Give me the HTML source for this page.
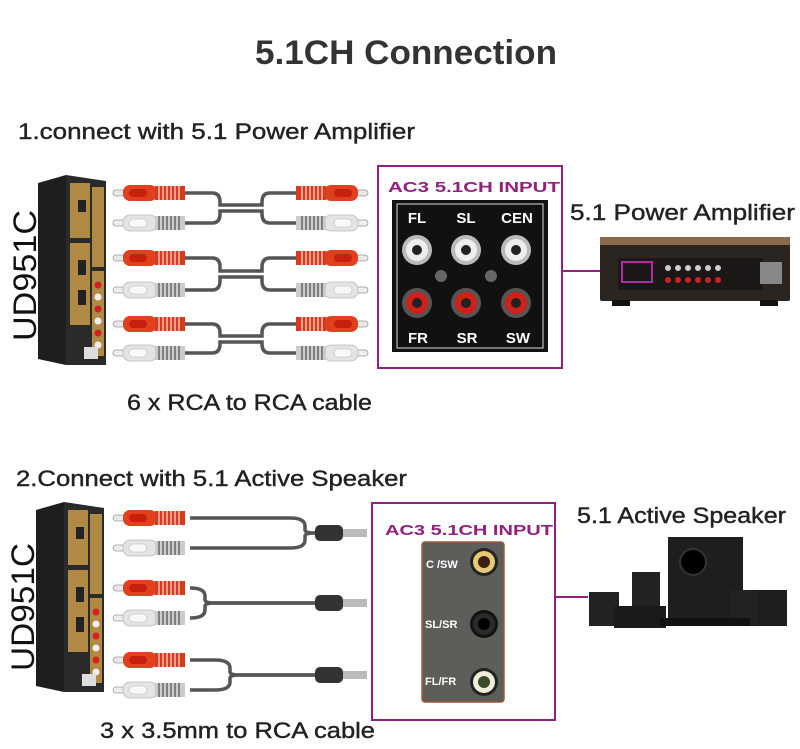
<!DOCTYPE html>
<html><head><meta charset="utf-8"><style>
html,body{margin:0;padding:0;background:#fff;}
svg{display:block;font-family:"Liberation Sans",sans-serif;}
</style></head><body>
<svg width="800" height="749" viewBox="0 0 800 749" xmlns="http://www.w3.org/2000/svg">
<defs>
<g id="plugR">
  <rect x="0" y="-3" width="12" height="6" rx="3" fill="#e8e8e8" stroke="#999" stroke-width="0.8"/>
  <rect x="10" y="-8" width="34" height="16" rx="7" fill="#e0401e"/>
  <rect x="16" y="-4" width="18" height="8" rx="4" fill="#c7200e"/>
  <rect x="42" y="-7" width="30" height="14" fill="#d83a1e"/>
  <path d="M46 -7v14M50 -7v14M54 -7v14M58 -7v14M62 -7v14M66 -7v14" stroke="#f5c0b0" stroke-width="1.5"/>
</g>
<g id="plugW">
  <rect x="0" y="-3" width="12" height="6" rx="3" fill="#eee" stroke="#999" stroke-width="0.8"/>
  <rect x="10" y="-8" width="34" height="16" rx="7" fill="#e4e4e4" stroke="#bbb" stroke-width="0.8"/>
  <rect x="16" y="-4" width="18" height="8" rx="4" fill="#f8f8f8" stroke="#bbb" stroke-width="0.6"/>
  <rect x="42" y="-7" width="30" height="14" fill="#ccc"/>
  <path d="M46 -7v14M50 -7v14M54 -7v14M58 -7v14M62 -7v14M66 -7v14" stroke="#666" stroke-width="1.5"/>
</g>
<g id="dev">
  <polygon points="0,8 28,0 28,190 0,184" fill="#1e1e1e"/>
  <polygon points="28,0 68,6 68,190 28,190" fill="#2a2a2a"/>
  <rect x="32" y="8" width="20" height="55" fill="#b08a45"/>
  <rect x="54" y="12" width="12" height="80" fill="#b08a45"/>
  <rect x="32" y="68" width="20" height="82" fill="#b08a45"/>
  <rect x="54" y="96" width="12" height="85" fill="#b08a45"/>
  <circle cx="60" cy="110" r="3.5" fill="#d02020"/><circle cx="60" cy="122" r="3.5" fill="#eee"/>
  <circle cx="60" cy="134" r="3.5" fill="#d02020"/><circle cx="60" cy="146" r="3.5" fill="#eee"/>
  <circle cx="60" cy="158" r="3.5" fill="#d02020"/><circle cx="60" cy="170" r="3.5" fill="#eee"/>
  <rect x="40" y="25" width="8" height="12" fill="#222"/><rect x="40" y="85" width="8" height="15" fill="#222"/>
  <rect x="40" y="115" width="8" height="15" fill="#222"/><rect x="46" y="172" width="14" height="12" fill="#ddd"/>
</g>
</defs>

<text x="255" y="64" textLength="302" lengthAdjust="spacingAndGlyphs" font-size="34" font-weight="bold" fill="#333">5.1CH Connection</text>
<text x="18" y="139" textLength="397" lengthAdjust="spacingAndGlyphs" font-size="22" fill="#222" stroke="#222" stroke-width="0.4">1.connect with 5.1 Power Amplifier</text>

<text transform="translate(36,341) rotate(-90)" textLength="131" lengthAdjust="spacingAndGlyphs" font-size="32" fill="#111">UD951C</text>
<use href="#dev" transform="translate(38,175)"/>

<g fill="none" stroke="#555" stroke-width="3.5">
  <path d="M185 193 H212 Q220 193 220 202 V205 H262 V202 Q262 193 270 193 H297"/>
  <path d="M185 223 H212 Q220 223 220 214 V211 H262 V214 Q262 223 270 223 H297"/>
  <path d="M185 258 H212 Q220 258 220 267 V271 H262 V267 Q262 258 270 258 H297"/>
  <path d="M185 290 H212 Q220 290 220 281 V277 H262 V281 Q262 290 270 290 H297"/>
  <path d="M185 324 H212 Q220 324 220 333 V336 H262 V333 Q262 324 270 324 H297"/>
  <path d="M185 353 H212 Q220 353 220 344 V342 H262 V344 Q262 353 270 353 H297"/>
</g>
<use href="#plugR" transform="translate(113,193)"/><use href="#plugW" transform="translate(113,223)"/>
<use href="#plugR" transform="translate(113,258)"/><use href="#plugW" transform="translate(113,290)"/>
<use href="#plugR" transform="translate(113,324)"/><use href="#plugW" transform="translate(113,353)"/>
<use href="#plugR" transform="translate(368,193) scale(-1,1)"/><use href="#plugW" transform="translate(368,223) scale(-1,1)"/>
<use href="#plugR" transform="translate(368,258) scale(-1,1)"/><use href="#plugW" transform="translate(368,290) scale(-1,1)"/>
<use href="#plugR" transform="translate(368,324) scale(-1,1)"/><use href="#plugW" transform="translate(368,353) scale(-1,1)"/>

<text x="127" y="410" textLength="245" lengthAdjust="spacingAndGlyphs" font-size="22" fill="#222" stroke="#222" stroke-width="0.4">6 x RCA to RCA cable</text>

<rect x="378" y="166" width="184" height="202" fill="none" stroke="#93207e" stroke-width="2"/>
<text x="388" y="192" textLength="172" lengthAdjust="spacingAndGlyphs" font-size="15" font-weight="bold" fill="#93207e">AC3 5.1CH INPUT</text>
<rect x="392" y="200" width="156" height="152" fill="#111"/>
<rect x="397" y="204" width="146" height="144" fill="none" stroke="#ddd" stroke-width="1"/>
<g font-size="15" font-weight="bold" fill="#fff" text-anchor="middle">
  <text x="417" y="223">FL</text><text x="466" y="223">SL</text><text x="517" y="223">CEN</text>
  <text x="418" y="343">FR</text><text x="467" y="343">SR</text><text x="518" y="343">SW</text>
</g>
<g>
  <circle cx="417" cy="250" r="15" fill="#bbb"/><circle cx="417" cy="250" r="11" fill="#eee"/><circle cx="417" cy="250" r="5" fill="#222"/>
  <circle cx="466" cy="250" r="15" fill="#bbb"/><circle cx="466" cy="250" r="11" fill="#eee"/><circle cx="466" cy="250" r="5" fill="#222"/>
  <circle cx="516" cy="250" r="15" fill="#bbb"/><circle cx="516" cy="250" r="11" fill="#eee"/><circle cx="516" cy="250" r="5" fill="#222"/>
  <circle cx="417" cy="303" r="15" fill="#555"/><circle cx="417" cy="303" r="11" fill="#d0201a"/><circle cx="417" cy="303" r="5" fill="#222"/>
  <circle cx="466" cy="303" r="15" fill="#555"/><circle cx="466" cy="303" r="11" fill="#d0201a"/><circle cx="466" cy="303" r="5" fill="#222"/>
  <circle cx="516" cy="303" r="15" fill="#555"/><circle cx="516" cy="303" r="11" fill="#d0201a"/><circle cx="516" cy="303" r="5" fill="#222"/>
  <circle cx="441" cy="276" r="6" fill="#666"/><circle cx="491" cy="276" r="6" fill="#666"/>
</g>
<line x1="562" y1="271" x2="608" y2="271" stroke="#93207e" stroke-width="2"/>

<text x="570" y="220" textLength="225" lengthAdjust="spacingAndGlyphs" font-size="22" fill="#222" stroke="#222" stroke-width="0.4">5.1 Power Amplifier</text>
<rect x="600" y="237" width="190" height="64" rx="2" fill="#2b2521"/>
<rect x="600" y="237" width="190" height="8" fill="#8a6a4a"/>
<rect x="618" y="258" width="145" height="32" fill="#1a1716"/>
<rect x="622" y="262" width="30" height="20" fill="none" stroke="#b02aa0" stroke-width="2"/>
<g fill="#ccc"><circle cx="668" cy="268" r="3"/><circle cx="678" cy="268" r="3"/><circle cx="688" cy="268" r="3"/><circle cx="698" cy="268" r="3"/><circle cx="708" cy="268" r="3"/><circle cx="718" cy="268" r="3"/></g>
<g fill="#c22"><circle cx="668" cy="280" r="3"/><circle cx="678" cy="280" r="3"/><circle cx="688" cy="280" r="3"/><circle cx="698" cy="280" r="3"/><circle cx="708" cy="280" r="3"/><circle cx="718" cy="280" r="3"/></g>
<rect x="760" y="262" width="22" height="22" fill="#888"/>
<rect x="612" y="300" width="18" height="6" fill="#111"/><rect x="760" y="300" width="18" height="6" fill="#111"/>

<text x="16" y="486" textLength="391" lengthAdjust="spacingAndGlyphs" font-size="22" fill="#222" stroke="#222" stroke-width="0.4">2.Connect with 5.1 Active Speaker</text>
<text transform="translate(34,671) rotate(-90)" textLength="128" lengthAdjust="spacingAndGlyphs" font-size="32" fill="#111">UD951C</text>
<use href="#dev" transform="translate(36,502)"/>

<g fill="none" stroke="#555" stroke-width="3.5">
  <path d="M190 518 H290 Q305 518 305 526 V530 Q305 533 315 533 H325"/>
  <path d="M190 548 H290 Q305 548 305 540 V536 Q305 533 315 533 H325"/>
  <path d="M190 588 H190 Q205 588 205 596 V600 Q205 603 215 603 H325"/>
  <path d="M190 618 H190 Q205 618 205 610 V606 Q205 603 215 603 H325"/>
  <path d="M190 660 H215 Q230 660 230 668 V672 Q230 675 240 675 H325"/>
  <path d="M190 690 H215 Q230 690 230 682 V678 Q230 675 240 675 H325"/>
</g>
<use href="#plugR" transform="translate(113,518)"/><use href="#plugW" transform="translate(113,548)"/>
<use href="#plugR" transform="translate(113,588)"/><use href="#plugW" transform="translate(113,618)"/>
<use href="#plugR" transform="translate(113,660)"/><use href="#plugW" transform="translate(113,690)"/>
<g>
  <rect x="315" y="525" width="28" height="16" rx="5" fill="#333"/><rect x="343" y="529" width="24" height="8" fill="#bbb"/>
  <rect x="315" y="595" width="28" height="16" rx="5" fill="#333"/><rect x="343" y="599" width="24" height="8" fill="#bbb"/>
  <rect x="315" y="667" width="28" height="16" rx="5" fill="#333"/><rect x="343" y="671" width="24" height="8" fill="#bbb"/>
</g>
<text x="100" y="738" textLength="275" lengthAdjust="spacingAndGlyphs" font-size="22" fill="#222" stroke="#222" stroke-width="0.4">3 x 3.5mm to RCA cable</text>

<rect x="372" y="503" width="183" height="217" fill="none" stroke="#93207e" stroke-width="2"/>
<text x="385" y="535" textLength="168" lengthAdjust="spacingAndGlyphs" font-size="15" font-weight="bold" fill="#93207e">AC3 5.1CH INPUT</text>
<rect x="422" y="542" width="82" height="160" rx="3" fill="#5d5d5a" stroke="#9a5a3a" stroke-width="1.5"/>
<g font-size="11" font-weight="bold" fill="#fff">
  <text x="426" y="568">C /SW</text><text x="425" y="628">SL/SR</text><text x="425" y="685">FL/FR</text>
</g>
<circle cx="484" cy="562" r="14" fill="#222"/><circle cx="484" cy="562" r="11" fill="#e8c873"/><circle cx="484" cy="562" r="6" fill="#3a2010"/>
<circle cx="484" cy="624" r="14" fill="#111"/><circle cx="484" cy="624" r="11" fill="#2a2a2a"/><circle cx="484" cy="624" r="6" fill="#000"/>
<circle cx="484" cy="682" r="14" fill="#222"/><circle cx="484" cy="682" r="11" fill="#eeeed8"/><circle cx="484" cy="682" r="6" fill="#3a4a2a"/>
<line x1="555" y1="597" x2="588" y2="597" stroke="#93207e" stroke-width="2"/>

<text x="577" y="523" textLength="209" lengthAdjust="spacingAndGlyphs" font-size="22" fill="#222" stroke="#222" stroke-width="0.4">5.1 Active Speaker</text>
<g>
  <rect x="668" y="537" width="75" height="82" fill="#1e1e1e"/>
  <circle cx="693" cy="562" r="13" fill="#000" stroke="#333" stroke-width="2"/>
  <rect x="632" y="572" width="28" height="34" fill="#222"/>
  <rect x="589" y="592" width="30" height="34" fill="#222"/>
  <rect x="614" y="606" width="52" height="22" fill="#1a1a1a"/>
  <rect x="730" y="590" width="30" height="36" fill="#222"/>
  <rect x="757" y="590" width="30" height="36" fill="#1e1e1e"/>
  <rect x="660" y="618" width="90" height="8" fill="#111"/>
</g>
</svg>
</body></html>
